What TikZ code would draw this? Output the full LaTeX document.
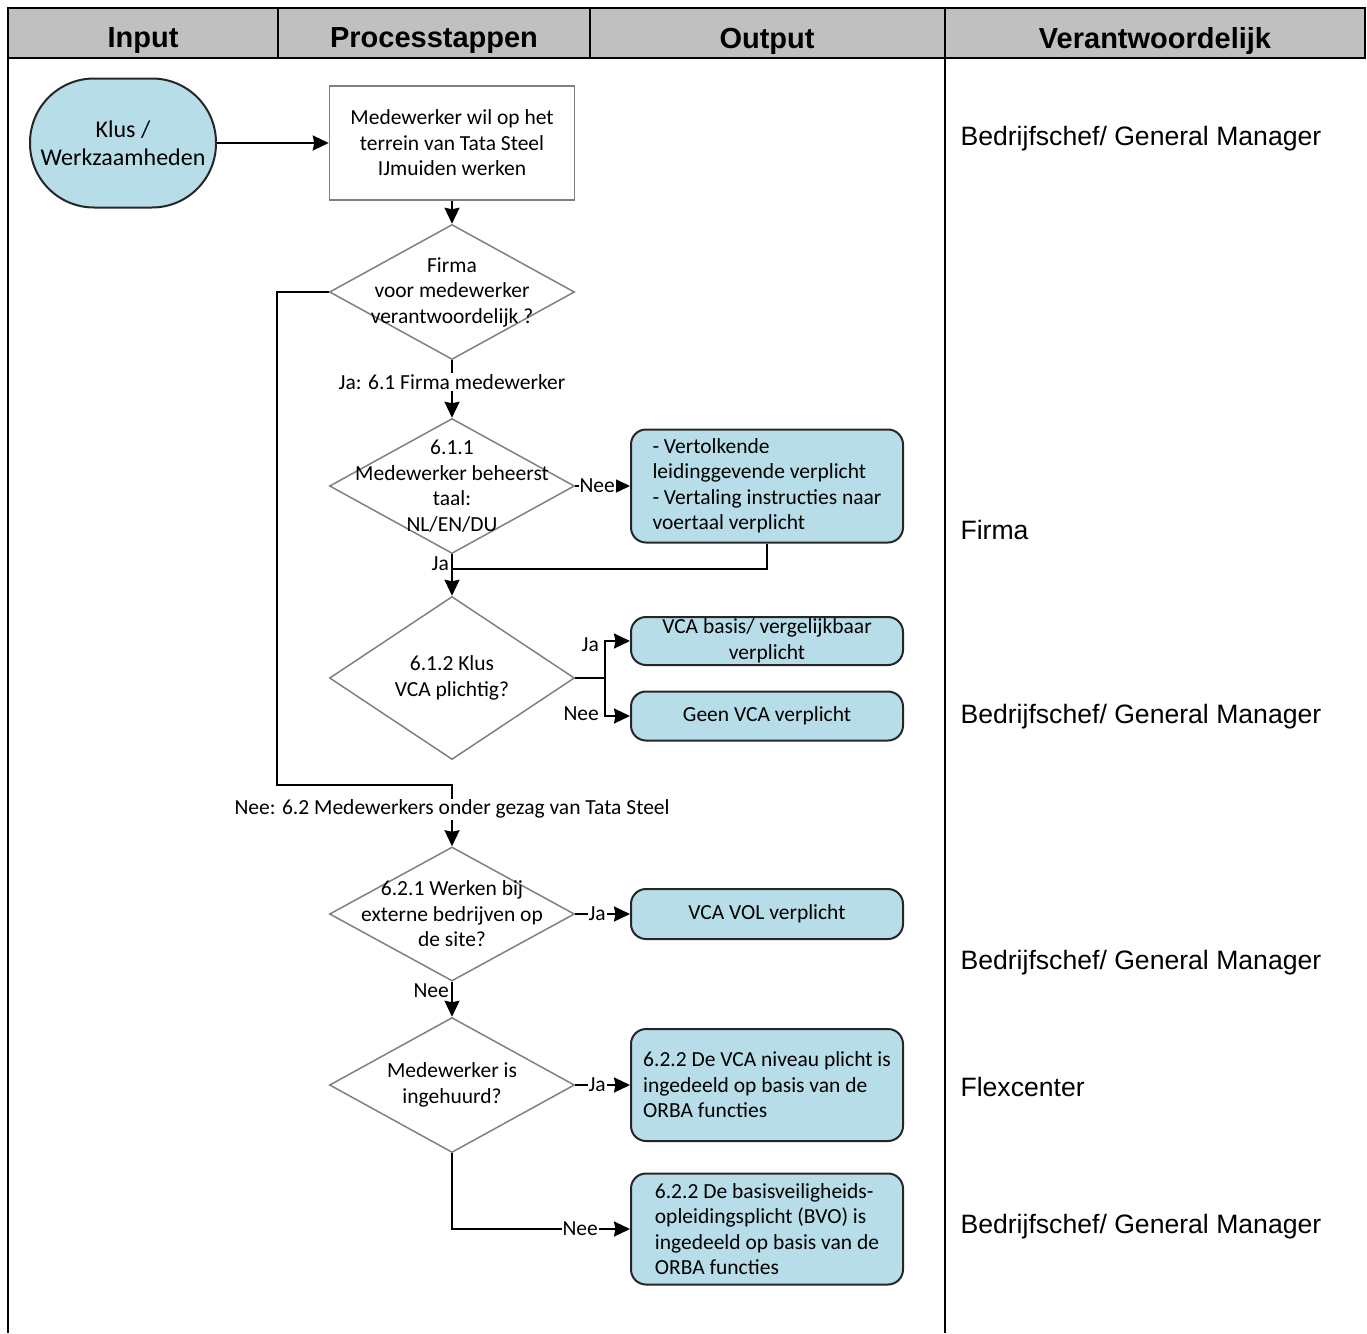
\documentclass[tikz,border=0pt]{standalone}
\usepackage{fontspec}
\setmainfont{Carlito}
\newfontfamily\arialfont{Liberation Sans}
\usetikzlibrary{shapes.geometric, arrows.meta, positioning, calc}
\definecolor{klusblue}{RGB}{183, 221, 232}
\definecolor{headgray}{RGB}{192, 192, 192}
\definecolor{diamondgray}{RGB}{128, 128, 128}

\begin{document}
\begin{tikzpicture}[x=1pt, y=-1pt,
    flowtext/.style={font=\fontsize{21.5}{25.5}\selectfont},
    process/.style={rectangle, draw=diamondgray, line width=1.5pt, fill=white, minimum width=245pt,
                    minimum height=114pt, align=center, flowtext},
    decision/.style={diamond, draw=diamondgray, line width=1.5pt, minimum width=245pt,
                     minimum height=135pt, inner sep=0pt},
    dtext/.style={align=center, flowtext},
    outbox/.style={rectangle, rounded corners=15pt, draw=black!85, line width=2pt, fill=klusblue,
                   minimum width=272pt, inner ysep=1pt, flowtext},
    conn/.style={line width=2pt},
    arr/.style={conn, -{Stealth[length=16pt, width=15pt, inset=1.5pt]}},
    lbl/.style={flowtext, fill=white, inner sep=1pt},
    resp/.style={anchor=west, font=\arialfont\fontsize{26.6}{30}\selectfont},
    headtext/.style={font=\arialfont\bfseries\fontsize{29}{30}\selectfont}
]
\useasboundingbox (0,0) rectangle (1367,1333);

% Header row
\draw[line width=2.5pt, fill=headgray] (8,8) rectangle (1365,58);
\foreach \x in {278,590,945}
    \draw[line width=2pt] (\x,8) -- (\x,58);
\node[headtext] (hinput) at (143,41) {Input};
\node[headtext] (hproces) at (434,41) {Processtappen};
\node[headtext] (houtput) at (767,41) {Output};
\node[headtext] (hverant) at (1155,41) {Verantwoordelijk};

% Body frame
\draw[line width=2pt] (8,58) -- (8,1333);
\draw[line width=2pt] (945,58) -- (945,1333);

% Input
\node[rectangle, rounded corners=64pt, draw=black!85, line width=2pt, fill=klusblue,
      minimum width=186pt, minimum height=129pt, align=center,
      font=\fontsize{24}{28}\selectfont] (klus) at (123,143)
      {Klus /\\Werkzaamheden};

% Process steps
\node[process] (start) at (452,143) {Medewerker wil op het\\terrein van Tata Steel\\IJmuiden werken};

\node[decision, label={[dtext]center:{Firma\\voor medewerker\\verantwoordelijk ?}}] (firma) at (452,292) {};
\node[lbl] (jafirma) at (452,382) {Ja: 6.1 Firma medewerker};

\node[decision, label={[dtext]center:{6.1.1\\Medewerker beheerst\\taal:\\NL/EN/DU}}] (taal) at (452,486) {};
\node[flowtext, anchor=north east, inner sep=2pt] (jataal) at ([xshift=-1pt]taal.south) {Ja};

\node[decision, minimum height=163pt, label={[dtext]center:{6.1.2 Klus\\VCA plichtig?}}] (vca) at (452,678) {};

\node[lbl] (nee62) at (452,809) {Nee: 6.2 Medewerkers onder gezag van Tata Steel};

\node[decision, minimum height=134pt, label={[dtext]center:{6.2.1 Werken bij\\externe bedrijven op\\de site?}}] (extern) at (452,914) {};
\node[flowtext, anchor=north east, inner sep=2pt] (neeextern) at ([xshift=-1pt]extern.south) {Nee};

\node[decision, label={[dtext]center:{Medewerker is\\ingehuurd?}}] (inhuur) at (452,1085) {};

% Output
\node[outbox, minimum height=113pt, align=left] (tolk) at (767,486)
    {- Vertolkende\\leidinggevende verplicht\\- Vertaling instructies naar\\voertaal verplicht};
\node[outbox, minimum height=48pt, align=center] (vcabasis) at (767,641) {VCA basis/ vergelijkbaar\\verplicht};
\node[outbox, minimum height=49pt] (geenvca) at (767,716) {Geen VCA verplicht};
\node[outbox, minimum height=50pt] (vcavol) at (767,914) {VCA VOL verplicht};
\node[outbox, minimum height=112pt, align=left] (orba) at (767,1085)
    {6.2.2 De VCA niveau plicht is\\ingedeeld op basis van de\\ORBA functies};
\node[outbox, minimum height=111pt, align=left] (bvo) at (767,1229)
    {6.2.2 De basisveiligheids-\\opleidingsplicht (BVO) is\\ingedeeld op basis van de\\ORBA functies};

% Connectors
\draw[arr] (klus) -- (start);
\draw[arr] (start) -- (firma);
\draw[conn] (firma) -- (jafirma);
\draw[arr] (jafirma) -- (taal);
\draw[arr] (taal) -- node[lbl, pos=0.4] {Nee} (tolk);
\coordinate (jajoin) at (452,569);
\draw[conn] (tolk.south) |- (jajoin);
\draw[arr] (taal) -- (vca);

\coordinate (split) at (605,678);
\draw[conn] (vca.east) -- (split);
\draw[arr] (split) |- (vcabasis.west);
\draw[arr] (split) |- (geenvca.west);
\node[flowtext, anchor=east, inner sep=2pt] (javca) at (601,645) {Ja};
\node[flowtext, anchor=east, inner sep=2pt] (neevca) at (601,714) {Nee};

\coordinate (loopdown) at (277,785);
\draw[conn] (firma.west) -| (loopdown) -| (nee62.north);
\draw[arr] (nee62) -- (extern);
\draw[arr] (extern) -- node[lbl, pos=0.4] {Ja} (vcavol);
\draw[arr] (extern) -- (inhuur);
\draw[arr] (inhuur) -- node[lbl, pos=0.4] {Ja} (orba);
\draw[arr] (inhuur.south) |- node[lbl, pos=0.86] {Nee} (bvo.west);

% Responsible
\node[resp] (r1) at (957,139) {Bedrijfschef/ General Manager};
\node[resp] (r2) at (957,530) {Firma};
\node[resp] (r3) at (957,717) {Bedrijfschef/ General Manager};
\node[resp] (r4) at (957,963) {Bedrijfschef/ General Manager};
\node[resp] (r5) at (957,1087) {Flexcenter};
\node[resp] (r6) at (957,1227) {Bedrijfschef/ General Manager};

\end{tikzpicture}
\end{document}
